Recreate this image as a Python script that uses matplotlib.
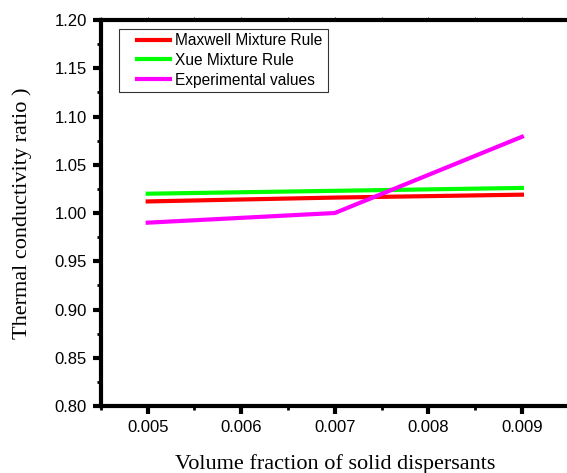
import matplotlib
matplotlib.use('Agg')
import matplotlib.pyplot as plt
from matplotlib.ticker import MultipleLocator, FormatStrFormatter
from matplotlib.legend_handler import HandlerLine2D

# data
phi = [0.005, 0.007, 0.009]
maxwell = [1.012, 1.016, 1.019]
xue = [1.020, 1.023, 1.026]
experimental = [0.990, 1.000, 1.079]

fig = plt.figure(figsize=(5.67, 4.73), dpi=100)
ax = fig.add_axes([0.178, 0.1416, 0.825, 0.8161])

l1, = ax.plot(phi, maxwell, color='#ff0000', lw=3, label='Maxwell Mixture Rule')
l2, = ax.plot(phi, xue, color='#00ff00', lw=3, label='Xue Mixture Rule')
l3, = ax.plot(phi, experimental, color='#ff00ff', lw=3, label='Experimental values')

ax.set_xlim(0.0045, 0.0095)
ax.set_ylim(0.80, 1.20)
ax.set_xticks([0.005, 0.006, 0.007, 0.008, 0.009])
ax.set_xticklabels(['0.005', '0.006', '0.007', '0.008', '0.009'])
ax.xaxis.set_minor_locator(MultipleLocator(0.0005))
ax.yaxis.set_major_locator(MultipleLocator(0.05))
ax.yaxis.set_minor_locator(MultipleLocator(0.025))
ax.yaxis.set_major_formatter(FormatStrFormatter('%.2f'))

for s in ['left', 'bottom', 'top']:
    ax.spines[s].set_linewidth(3)
ax.spines['right'].set_visible(False)

ax.tick_params(axis='both', which='major', direction='out', length=6, width=3,
               labelsize=12, pad=4)
ax.tick_params(axis='both', which='minor', direction='out', length=3, width=2)
ax.tick_params(axis='x', which='both', top=True)
ax.tick_params(axis='x', which='both', labeltop=False)
# thin faint ticks on the top spine
for t in ax.xaxis.get_major_ticks() + ax.xaxis.get_minor_ticks():
    t.tick2line.set_markersize(2)
    t.tick2line.set_markeredgewidth(0.6)
    t.tick2line.set_color('#777777')
for lbl in ax.get_xticklabels() + ax.get_yticklabels():
    lbl.set_fontfamily('Liberation Sans')

ax.set_xlabel('Volume fraction of solid dispersants', fontsize=16,
              family='Liberation Serif', labelpad=14)
ax.set_ylabel('Thermal conductivity ratio )', fontsize=16,
              family='Liberation Serif', labelpad=16)

hmap = {h: HandlerLine2D(xpad=0.85) for h in (l1, l2, l3)}
leg = ax.legend(loc='upper left', bbox_to_anchor=(0.038, 0.978),
                prop={'family': 'Liberation Sans', 'size': 11.2},
                frameon=True, fancybox=False, handlelength=3.0,
                labelspacing=0.3, borderpad=0.3, handletextpad=0.35,
                borderaxespad=0, handler_map=hmap)
leg.get_frame().set_edgecolor('black')
leg.get_frame().set_linewidth(0.8)

fig.savefig('out.png', dpi=100)
